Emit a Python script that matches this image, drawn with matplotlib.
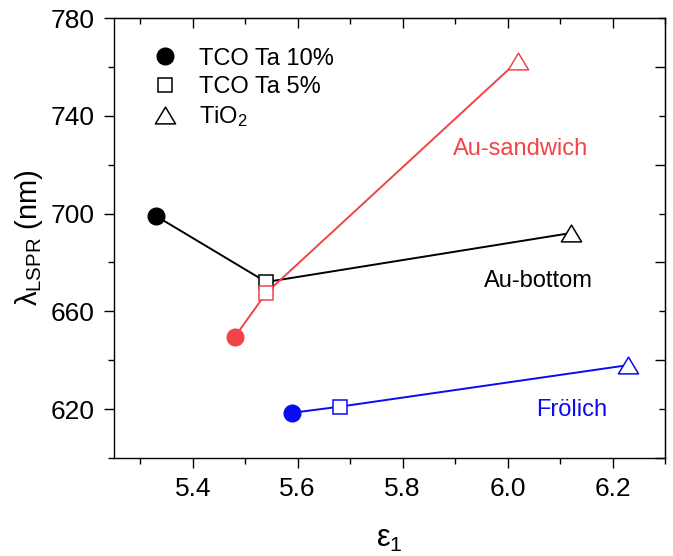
import matplotlib.pyplot as plt
from matplotlib.path import Path
from matplotlib.ticker import MultipleLocator

plt.rcParams["font.family"] = ["Liberation Sans", "DejaVu Sans"]
plt.rcParams["mathtext.fontset"] = "custom"
plt.rcParams["mathtext.rm"] = "Liberation Sans"
plt.rcParams["mathtext.it"] = "Liberation Sans"

# eps1 / lambda_LSPR for TCO Ta 10%, TCO Ta 5%, TiO2
series_names = ["Au-bottom", "Au-sandwich", "Frölich"]
bottom_eps = [5.33, 5.54, 6.12]
bottom_lam = [699, 672, 692]
sandwich_eps = [5.48, 5.54, 6.02]
sandwich_lam = [649.5, 667.5, 762.5]
frolich_eps = [5.59, 5.68, 6.23]
frolich_lam = [618.5, 621, 638]
legend_labels = ["TCO Ta 10%", "TCO Ta 5%", "TiO$_2$"]

RED = "#F04448"
BLUE = "#0A0AF5"
TRI = Path([(-1.2, -1.0), (1.2, -1.0), (0.0, 1.0), (-1.2, -1.0)],
           [Path.MOVETO, Path.LINETO, Path.LINETO, Path.CLOSEPOLY])


def draw(ax, xs, ys, color):
    ax.plot(xs, ys, color=color, lw=1.4, zorder=2)
    ax.plot(xs[0], ys[0], "o", ms=12, color=color, zorder=3)
    ax.plot(xs[1], ys[1], "s", ms=10.5, mfc="white", mec=color, mew=1.1, zorder=3)
    ax.plot(xs[2], ys[2], marker=TRI, ms=14.5, ls="none", mfc="white", mec=color, mew=1.1, zorder=3)


fig = plt.figure(figsize=(6.73, 5.56), dpi=100)
ax = fig.add_axes([114 / 673, 1 - 458 / 556, 551 / 673, 440 / 556])

draw(ax, bottom_eps, bottom_lam, "black")
draw(ax, sandwich_eps, sandwich_lam, RED)
draw(ax, frolich_eps, frolich_lam, BLUE)

ax.text(6.025, 726.4, series_names[1], color=RED, fontsize=17, va="center", ha="center")
ax.text(6.058, 672.4, series_names[0], color="black", fontsize=17, va="center", ha="center")
ax.text(6.122, 619.6, series_names[2], color=BLUE, fontsize=17, va="center", ha="center")

# legend
h1, = ax.plot([], [], "o", ms=12, color="black")
h2, = ax.plot([], [], "s", ms=10.5, mfc="white", mec="black", mew=1.1)
h3, = ax.plot([], [], marker=TRI, ms=14.5, ls="none", mfc="white", mec="black", mew=1.1)
ax.legend([h1, h2, h3], legend_labels, loc="upper left", frameon=False,
          fontsize=17, handlelength=1.0, handletextpad=0.9, labelspacing=0.27,
          borderaxespad=0.3, bbox_to_anchor=(0.042, 0.97))

ax.set_xlim(5.25, 6.3)
ax.set_ylim(600, 780)
ax.set_xticks([5.4, 5.6, 5.8, 6.0, 6.2])
ax.set_xticklabels(["5.4", "5.6", "5.8", "6.0", "6.2"])
ax.xaxis.set_minor_locator(MultipleLocator(0.1))
ax.set_yticks([620, 660, 700, 740, 780])
ax.yaxis.set_minor_locator(MultipleLocator(20))

ax.tick_params(which="both", direction="out", top=False, right=False, labelsize=19, width=1)
ax.tick_params(which="major", length=7, pad=7)
ax.tick_params(which="minor", length=4)
ax2 = ax.secondary_xaxis("top")
ax2.xaxis.set_major_locator(MultipleLocator(0.2))
ax2.xaxis.set_minor_locator(MultipleLocator(0.1))
ax2.tick_params(which="both", direction="in", labeltop=False, width=1)
ax2.tick_params(which="major", length=7)
ax2.tick_params(which="minor", length=4)
ax3 = ax.secondary_yaxis("right")
ax3.yaxis.set_major_locator(MultipleLocator(40))
ax3.yaxis.set_minor_locator(MultipleLocator(20))
ax3.tick_params(which="both", direction="in", labelright=False, width=1)
ax3.tick_params(which="major", length=7)
ax3.tick_params(which="minor", length=4)
for s in ax.spines.values():
    s.set_linewidth(1)

ax.set_xlabel(r"$\varepsilon_1$", fontsize=22, labelpad=16)
ax.set_ylabel(r"$\lambda_{\rm LSPR}$ (nm)", fontsize=21, labelpad=4)

fig.savefig("out.png", dpi=100)
